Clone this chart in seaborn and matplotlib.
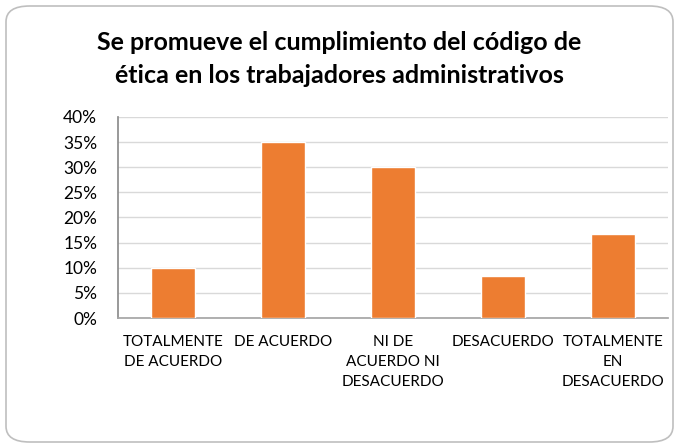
import matplotlib
matplotlib.use("Agg")
import matplotlib.pyplot as plt
from matplotlib.patches import FancyBboxPatch
from matplotlib.ticker import PercentFormatter, MultipleLocator
import seaborn as sns
import pandas as pd

categories = [
    "TOTALMENTE\nDE ACUERDO",
    "DE ACUERDO",
    "NI DE\nACUERDO NI\nDESACUERDO",
    "DESACUERDO",
    "TOTALMENTE\nEN\nDESACUERDO",
]
percentages = [10.0, 35.0, 30.0, 8.33, 16.67]
title = "Se promueve el cumplimiento del código de\nética en los trabajadores administrativos"

sns.set_theme(style="white")
plt.rcParams["font.family"] = ["Lato", "DejaVu Sans"]

df = pd.DataFrame({"categoria": categories, "porcentaje": percentages})

fig = plt.figure(figsize=(6.79, 4.48), dpi=100)
ax = fig.add_axes([118 / 679, 1 - 318 / 448, 550 / 679, 201 / 448])

sns.barplot(data=df, x="categoria", y="porcentaje", color="#ED7D31",
            width=0.4, saturation=1, ax=ax, zorder=3)

ax.set_ylim(0, 40)
ax.set_xlim(-0.5, len(categories) - 0.5)
ax.yaxis.set_major_locator(MultipleLocator(5))
ax.yaxis.set_major_formatter(PercentFormatter(decimals=0))
ax.grid(axis="y", color="#D9D9D9", linewidth=1, zorder=0)
ax.set_xlabel("")
ax.set_ylabel("")
for side in ("top", "right"):
    ax.spines[side].set_visible(False)
ax.spines["left"].set_color("#8C8C8C")
ax.spines["bottom"].set_color("#A6A6A6")
ax.tick_params(axis="y", labelsize=12.5, colors="#000000", length=0, pad=15)
ax.tick_params(axis="x", labelsize=11, colors="#000000", length=0, pad=12)
for lbl in ax.get_xticklabels():
    lbl.set_linespacing(1.55)
    lbl.set_verticalalignment("top")

fig.text(0.5, 1 - 59 / 448, title, ha="center", va="center",
         fontsize=18, fontweight="bold", linespacing=1.5, color="#000000")

border = FancyBboxPatch((6 / 679, 6 / 448), 667 / 679, 436 / 448,
                        boxstyle="round,pad=0,rounding_size=0.035",
                        transform=fig.transFigure, facecolor="none",
                        edgecolor="#BFBFBF", linewidth=1.2)
fig.patches.append(border)

fig.savefig("out.png", dpi=100)
